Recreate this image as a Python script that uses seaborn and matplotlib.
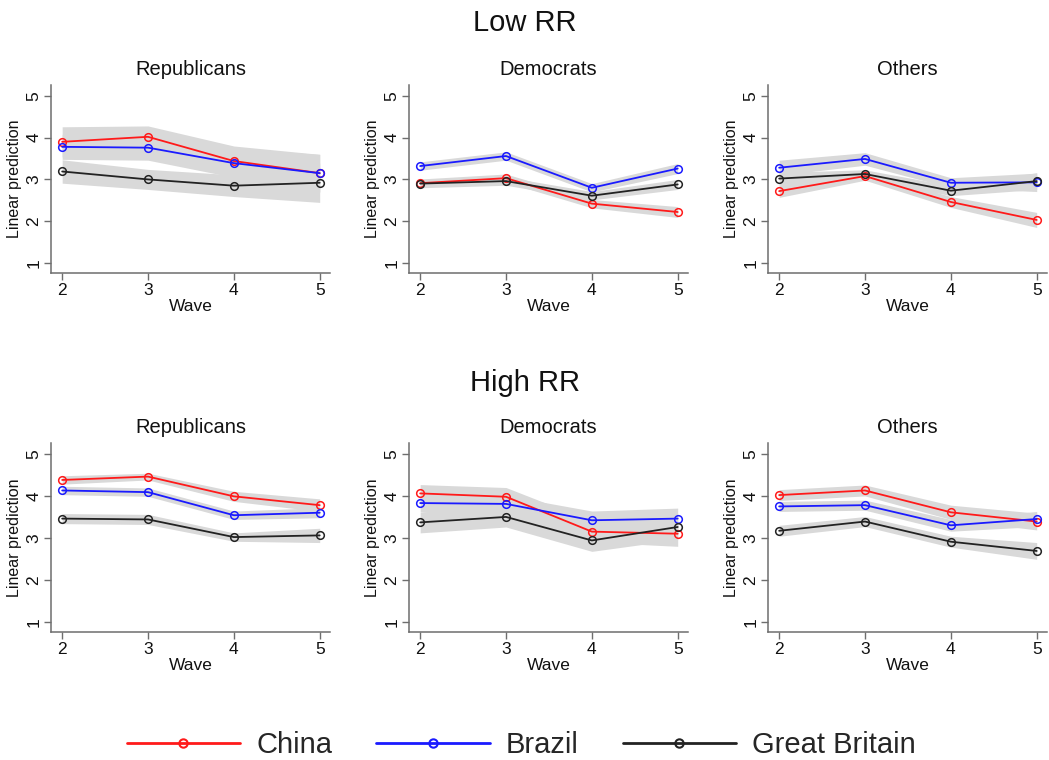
import numpy as np
import pandas as pd
import matplotlib
matplotlib.use("Agg")
import matplotlib.pyplot as plt
from matplotlib.lines import Line2D
import seaborn as sns

sns.set_theme(style="white")
plt.rcParams['font.family'] = ['Liberation Sans', 'DejaVu Sans']

waves = [2, 3, 4, 5]
countries = ["China", "Brazil", "Great Britain"]
groups = ["Republicans", "Democrats", "Others"]
rows = ["Low RR", "High RR"]

# predictions at waves 2..5
low_rep_china = [3.90, 4.02, 3.44, 3.15]
low_rep_brazil = [3.78, 3.76, 3.39, 3.15]
low_rep_gb = [3.19, 3.00, 2.85, 2.92]
low_dem_china = [2.91, 3.03, 2.42, 2.22]
low_dem_brazil = [3.32, 3.56, 2.80, 3.26]
low_dem_gb = [2.90, 2.96, 2.61, 2.88]
low_oth_china = [2.72, 3.08, 2.46, 2.03]
low_oth_brazil = [3.28, 3.49, 2.92, 2.93]
low_oth_gb = [3.02, 3.13, 2.73, 2.96]
high_rep_china = [4.38, 4.46, 3.99, 3.78]
high_rep_brazil = [4.13, 4.09, 3.54, 3.60]
high_rep_gb = [3.46, 3.44, 3.02, 3.06]
high_dem_china = [4.06, 3.98, 3.15, 3.10]
high_dem_brazil = [3.83, 3.81, 3.42, 3.46]
high_dem_gb = [3.37, 3.50, 2.94, 3.26]
high_oth_china = [4.02, 4.13, 3.61, 3.39]
high_oth_brazil = [3.75, 3.78, 3.30, 3.45]
high_oth_gb = [3.17, 3.39, 2.91, 2.69]

# confidence half-widths
low_rep_china_ci = [0.36, 0.26, 0.36, 0.45]
low_rep_brazil_ci = [0.30, 0.30, 0.34, 0.45]
low_rep_gb_ci = [0.28, 0.24, 0.26, 0.47]
low_dem_china_ci = [0.10, 0.10, 0.10, 0.13]
low_dem_brazil_ci = [0.10, 0.10, 0.10, 0.12]
low_dem_gb_ci = [0.10, 0.10, 0.10, 0.12]
low_oth_china_ci = [0.15, 0.10, 0.13, 0.18]
low_oth_brazil_ci = [0.18, 0.15, 0.12, 0.22]
low_oth_gb_ci = [0.15, 0.10, 0.12, 0.20]
high_rep_china_ci = [0.10, 0.08, 0.12, 0.15]
high_rep_brazil_ci = [0.10, 0.10, 0.10, 0.12]
high_rep_gb_ci = [0.12, 0.12, 0.10, 0.17]
high_dem_china_ci = [0.21, 0.22, 0.25, 0.30]
high_dem_brazil_ci = [0.20, 0.20, 0.22, 0.25]
high_dem_gb_ci = [0.25, 0.24, 0.26, 0.30]
high_oth_china_ci = [0.13, 0.13, 0.17, 0.20]
high_oth_brazil_ci = [0.12, 0.12, 0.14, 0.18]
high_oth_gb_ci = [0.13, 0.12, 0.13, 0.20]

pred = {
    ("Low RR", "Republicans"): [low_rep_china, low_rep_brazil, low_rep_gb],
    ("Low RR", "Democrats"): [low_dem_china, low_dem_brazil, low_dem_gb],
    ("Low RR", "Others"): [low_oth_china, low_oth_brazil, low_oth_gb],
    ("High RR", "Republicans"): [high_rep_china, high_rep_brazil, high_rep_gb],
    ("High RR", "Democrats"): [high_dem_china, high_dem_brazil, high_dem_gb],
    ("High RR", "Others"): [high_oth_china, high_oth_brazil, high_oth_gb],
}
ci = {
    ("Low RR", "Republicans"): [low_rep_china_ci, low_rep_brazil_ci, low_rep_gb_ci],
    ("Low RR", "Democrats"): [low_dem_china_ci, low_dem_brazil_ci, low_dem_gb_ci],
    ("Low RR", "Others"): [low_oth_china_ci, low_oth_brazil_ci, low_oth_gb_ci],
    ("High RR", "Republicans"): [high_rep_china_ci, high_rep_brazil_ci, high_rep_gb_ci],
    ("High RR", "Democrats"): [high_dem_china_ci, high_dem_brazil_ci, high_dem_gb_ci],
    ("High RR", "Others"): [high_oth_china_ci, high_oth_brazil_ci, high_oth_gb_ci],
}

recs = []
for (r, g), series in pred.items():
    for ci_idx, c in enumerate(countries):
        for w, v, h in zip(waves, series[ci_idx], ci[(r, g)][ci_idx]):
            recs.append(dict(row=r, group=g, country=c, wave=w, pred=v, lo=v - h, hi=v + h))
df = pd.DataFrame(recs)

colors = {"China": "#ff1a1a", "Brazil": "#1a1aff", "Great Britain": "#222222"}
band = "#d9d9d9"
spine_col = "#6e6e6e"

fig = plt.figure(figsize=(10.49, 7.6), dpi=100)
W, H = 1049, 760
lefts = [51, 409, 768]
axw = 279
row_box = {"Low RR": (85, 273), "High RR": (443, 632)}

for r in rows:
    top, bot = row_box[r]
    for gi, g in enumerate(groups):
        ax = fig.add_axes([lefts[gi] / W, 1 - bot / H, axw / W, (bot - top) / H])
        sub = df[(df.row == r) & (df.group == g)]
        for c in countries:
            s = sub[sub.country == c]
            ax.fill_between(s.wave, s.lo, s.hi, color=band, lw=0, zorder=1)
        for c in countries:
            s = sub[sub.country == c]
            sns.lineplot(data=s, x="wave", y="pred", color=colors[c], marker="o",
                         markersize=5.5, markerfacecolor="none",
                         markeredgecolor=colors[c], markeredgewidth=1.1,
                         linewidth=1.3, ax=ax, zorder=3, errorbar=None)
        ax.set_xlim(1.87, 5.12)
        ax.set_ylim(0.76, 5.26)
        ax.set_xticks(waves)
        ax.set_yticks([1, 2, 3, 4, 5])
        ax.set_yticklabels(["1", "2", "3", "4", "5"], rotation=90, va="center")
        for sp in ["top", "right"]:
            ax.spines[sp].set_visible(False)
        for sp in ["left", "bottom"]:
            ax.spines[sp].set_color(spine_col)
            ax.spines[sp].set_linewidth(1.1)
        ax.tick_params(axis="both", direction="out", length=5, width=1.0,
                       color=spine_col, labelsize=12.5, labelcolor="#111111", pad=2)
        ax.tick_params(axis="x", bottom=True)
        ax.tick_params(axis="y", left=True)
        ax.set_xlabel("Wave", fontsize=12.5, labelpad=1, color="#111111")
        ax.set_ylabel("Linear prediction", fontsize=11.5, labelpad=3, color="#111111")
        ax.set_title(g, fontsize=14.5, pad=7, color="#111111")
        ax.set_facecolor("white")
        ax.grid(False)

fig.text(0.5, 1 - 23 / H, "Low RR", ha="center", va="center", fontsize=21, color="#111111")
fig.text(0.5, 1 - 383 / H, "High RR", ha="center", va="center", fontsize=21, color="#111111")

handles = [Line2D([0], [0], color=colors[c], marker="o", markerfacecolor="none",
                  markeredgecolor=colors[c], markersize=6, markeredgewidth=1.5,
                  linewidth=2.0) for c in countries]
fig.legend(handles, countries, loc="center", bbox_to_anchor=(0.497, 1 - 745 / H),
           ncol=3, frameon=False, handlelength=3.9, columnspacing=1.5,
           handletextpad=0.55, prop={"size": 21})

fig.savefig("out.png", dpi=100, facecolor="white")
